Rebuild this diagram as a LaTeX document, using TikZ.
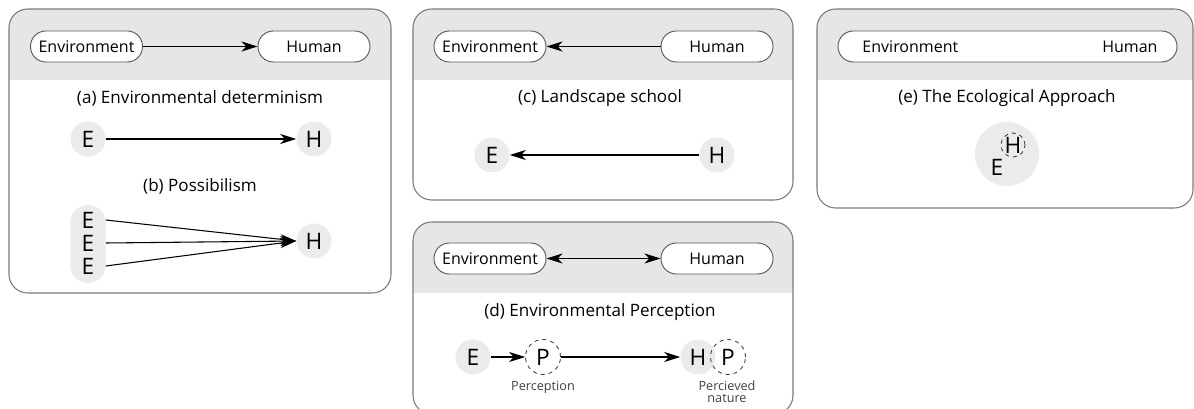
\documentclass[tikz,border=0pt]{standalone}
\usepackage{fontspec}
\setmainfont{Open Sans}
\usetikzlibrary{arrows.meta}

\definecolor{headgray}{HTML}{E6E6E6}
\definecolor{ballgray}{HTML}{EBEBEB}
\definecolor{linegray}{HTML}{7A7A7A}

\tikzset{
  panel/.style={draw=linegray,line width=0.8pt,rounded corners=14pt},
  pill/.style={draw=black!65,fill=white,line width=0.7pt,rounded corners=11.5pt,
    minimum width=84pt,minimum height=23.25pt,inner sep=0pt,font=\fontsize{12}{14}\selectfont},
  title/.style={font=\fontsize{12.8}{15}\selectfont},
  ball/.style={circle,fill=ballgray,minimum size=26.25pt,inner sep=0pt,font=\fontsize{17}{19}\selectfont},
  seen/.style={circle,draw=black!80,dashed,line width=0.6pt,minimum size=26.25pt,inner sep=0pt,
    font=\fontsize{17}{19}\selectfont},
  small/.style={font=\fontsize{9.5}{8.5}\selectfont,text=black!75,align=center},
  arr/.style={-{Stealth[length=12pt,width=7.5pt,inset=3.5pt]},line width=0.8pt},
  darr/.style={{Stealth[length=12pt,width=7.5pt,inset=3.5pt]}-{Stealth[length=12pt,width=7.5pt,inset=3.5pt]},line width=0.8pt},
}

% panel with grey head band
\newcommand{\panelbox}[4]{%
  \begin{scope}
    \clip[rounded corners=14pt] (#1,#2) rectangle (#3,#4);
    \fill[headgray] (#1,#2) rectangle (#3,#2+71);
  \end{scope}
  \draw[panel] (#1,#2) rectangle (#3,#4);}

\begin{document}
\begin{tikzpicture}[x=0.75pt,y=-0.75pt]
\useasboundingbox (0,0) rectangle (1194,409);

% (a) and (b)
\panelbox{9}{9}{391}{293}
\node[pill] (envA) at (86.5,46.5) {Environment};
\node[pill] (humA) at (314,46.5) {Human};
\draw[arr] (envA) -- (humA);
\node[title] (titA) at (200,98) {(a) Environmental determinism};
\node[ball] (eA) at (88,139) {E};
\node[ball] (hA) at (314,139) {H};
\draw[arr] (eA) -- (hA);
\node[title] (titB) at (200,186) {(b) Possibilism};
\node[fill=ballgray,rounded corners=13pt,minimum width=26.25pt,minimum height=58.5pt] (stackB) at (88,244) {};
\node[ball,fill=none,minimum size=15pt,minimum width=26.25pt] (eB1) at (88,220) {E};
\node[ball,fill=none,minimum size=15pt,minimum width=26.25pt] (eB2) at (88,243) {E};
\node[ball,fill=none,minimum size=15pt,minimum width=26.25pt] (eB3) at (88,266) {E};
\node[ball] (hB) at (314,241) {H};
\draw[arr] (eB1.east) -- (hB.west);
\draw[arr] (eB2.east) -- (hB.west);
\draw[arr] (eB3.east) -- (hB.west);

% (c)
\panelbox{413}{9}{793}{200}
\node[pill] (envC) at (490,46.5) {Environment};
\node[pill] (humC) at (717,46.5) {Human};
\draw[arr] (humC) -- (envC);
\node[title] (titC) at (600,98) {(c) Landscape school};
\node[ball] (eC) at (492,155) {E};
\node[ball] (hC) at (717,155) {H};
\draw[arr] (hC) -- (eC);

% (d)
\panelbox{413}{222}{793}{414}
\node[pill] (envD) at (490,258.5) {Environment};
\node[pill] (humD) at (717,258.5) {Human};
\draw[darr] (envD) -- (humD);
\node[title] (titD) at (600,312) {(d) Environmental Perception};
\node[ball] (eD) at (473,357) {E};
\node[seen] (pD) at (543,357) {P};
\node[ball] (hD) at (698,357) {H};
\node[seen] (pD2) at (728,357) {P};
\draw[arr] (eD) -- (pD);
\draw[arr] (pD) -- (hD);
\node[small] (labP) at (543,387) {Perception};
\node[small,anchor=north,inner sep=0pt] (labP2) at (727,381) {Percieved\\nature};

% (e)
\panelbox{817}{9}{1193}{208}
\node[pill,minimum width=254.25pt] (pillE) at (1007.5,46.5) {};
\node[pill,draw=none,fill=none,minimum width=0pt,anchor=west] (envE) at (862,46.5) {Environment};
\node[pill,draw=none,fill=none,minimum width=0pt,anchor=east] (humE) at (1158,46.5) {Human};
\node[title] (titE) at (1007,98) {(e) The Ecological Approach};
\node[ball,minimum size=48pt] (bigE) at (1007,154) {};
\node[font=\fontsize{17}{19}\selectfont] (eE) at (997,167) {E};
\node[seen,minimum size=18pt] (hE) at (1013,145) {H};

\end{tikzpicture}
\end{document}
